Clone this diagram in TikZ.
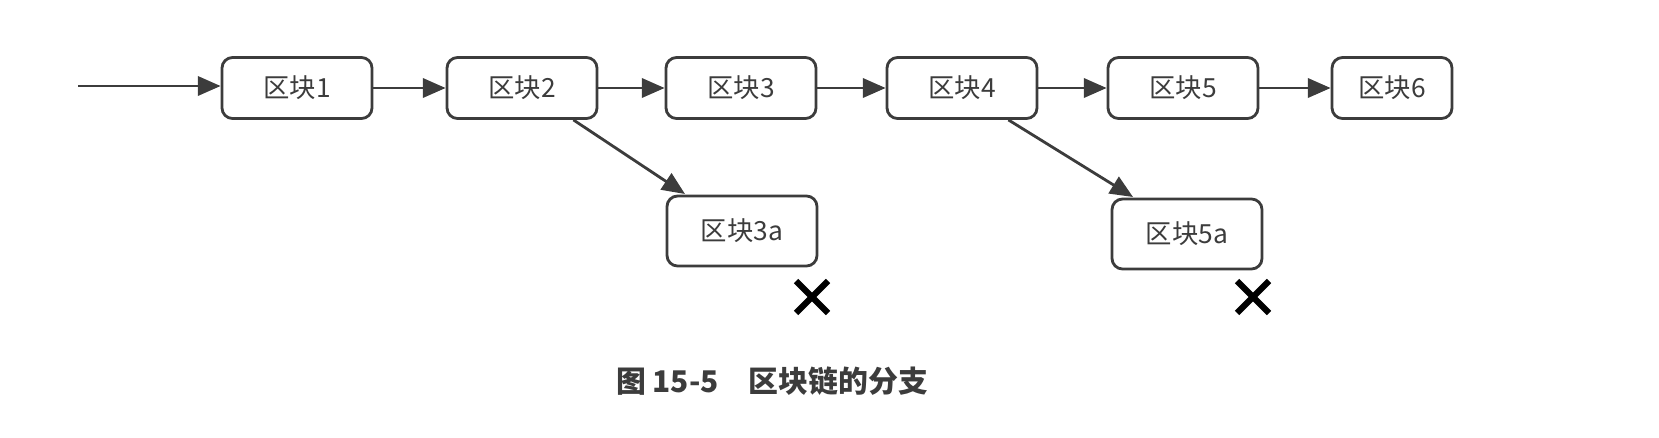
\documentclass[tikz,border=0pt]{standalone}
\usepackage{fontspec}
\newfontfamily\cjk{Noto Sans CJK SC}
\usetikzlibrary{arrows.meta, positioning}
\definecolor{BlockGray}{RGB}{60, 60, 60}

\begin{document}
\begin{tikzpicture}[
    font=\cjk\fontsize{15}{18}\selectfont,
    block/.style={
        draw=BlockGray,            % dark outline
        rounded corners=6pt,
        line width=1.6pt,
        minimum height=1.22cm,
        minimum width=3cm,
        text=BlockGray
    },
    link/.style={
        -{Triangle[length=13pt, width=11pt]},
        line width=1.6pt,
        draw=BlockGray
    },
    cross/.style={
        line width=3.5pt,
        draw=black
    }
]
    \useasboundingbox (0,0) rectangle (33.18,-8.74);

    % --- 1. Main chain ---
    \node[block] (b1) at (5.94,-1.76) {区块1};
    \node[block] (b2) at (10.44,-1.76) {区块2};
    \node[block] (b3) at (14.82,-1.76) {区块3};
    \node[block] (b4) at (19.24,-1.76) {区块4};
    \node[block] (b5) at (23.66,-1.76) {区块5};
    \node[block, minimum width=2.4cm] (b6) at (27.84,-1.76) {区块6};

    % --- 2. Orphan branches ---
    \node[block, minimum height=1.4cm] (b3a) at (14.84,-4.62) {区块3a};
    \node[block, minimum height=1.4cm] (b5a) at (23.74,-4.68) {区块5a};

    % --- 3. Links ---
    \coordinate (start) at (1.56,-1.72);
    \coordinate (fork3a) at (13.7,-3.88);
    \coordinate (fork5a) at (22.66,-3.94);
    \draw[link] (start) -- (b1.west |- start);
    \draw[link] (b1) -- (b2);
    \draw[link] (b2) -- (b3);
    \draw[link] (b3) -- (b4);
    \draw[link] (b4) -- (b5);
    \draw[link] (b5) -- (b6);
    \draw[link] ([xshift=-0.5cm]b2.south east) -- (fork3a);
    \draw[link] ([xshift=-0.6cm]b4.south east) -- (fork5a);

    % --- 4. Rejected marks ---
    \foreach \cx/\cy [count=\i] in {16.24/-5.94, 25.06/-5.94} {
        \draw[cross] (\cx-0.32,\cy+0.32) -- (\cx+0.32,\cy-0.32)
                     (\cx-0.32,\cy-0.32) -- (\cx+0.32,\cy+0.32);
    }

    % --- 5. Caption ---
    \node[font=\cjk\bfseries\fontsize{17}{20}\selectfont, text=BlockGray] (caption) at (15.44,-7.62) {图 15-5\quad 区块链的分支};
\end{tikzpicture}
\end{document}
